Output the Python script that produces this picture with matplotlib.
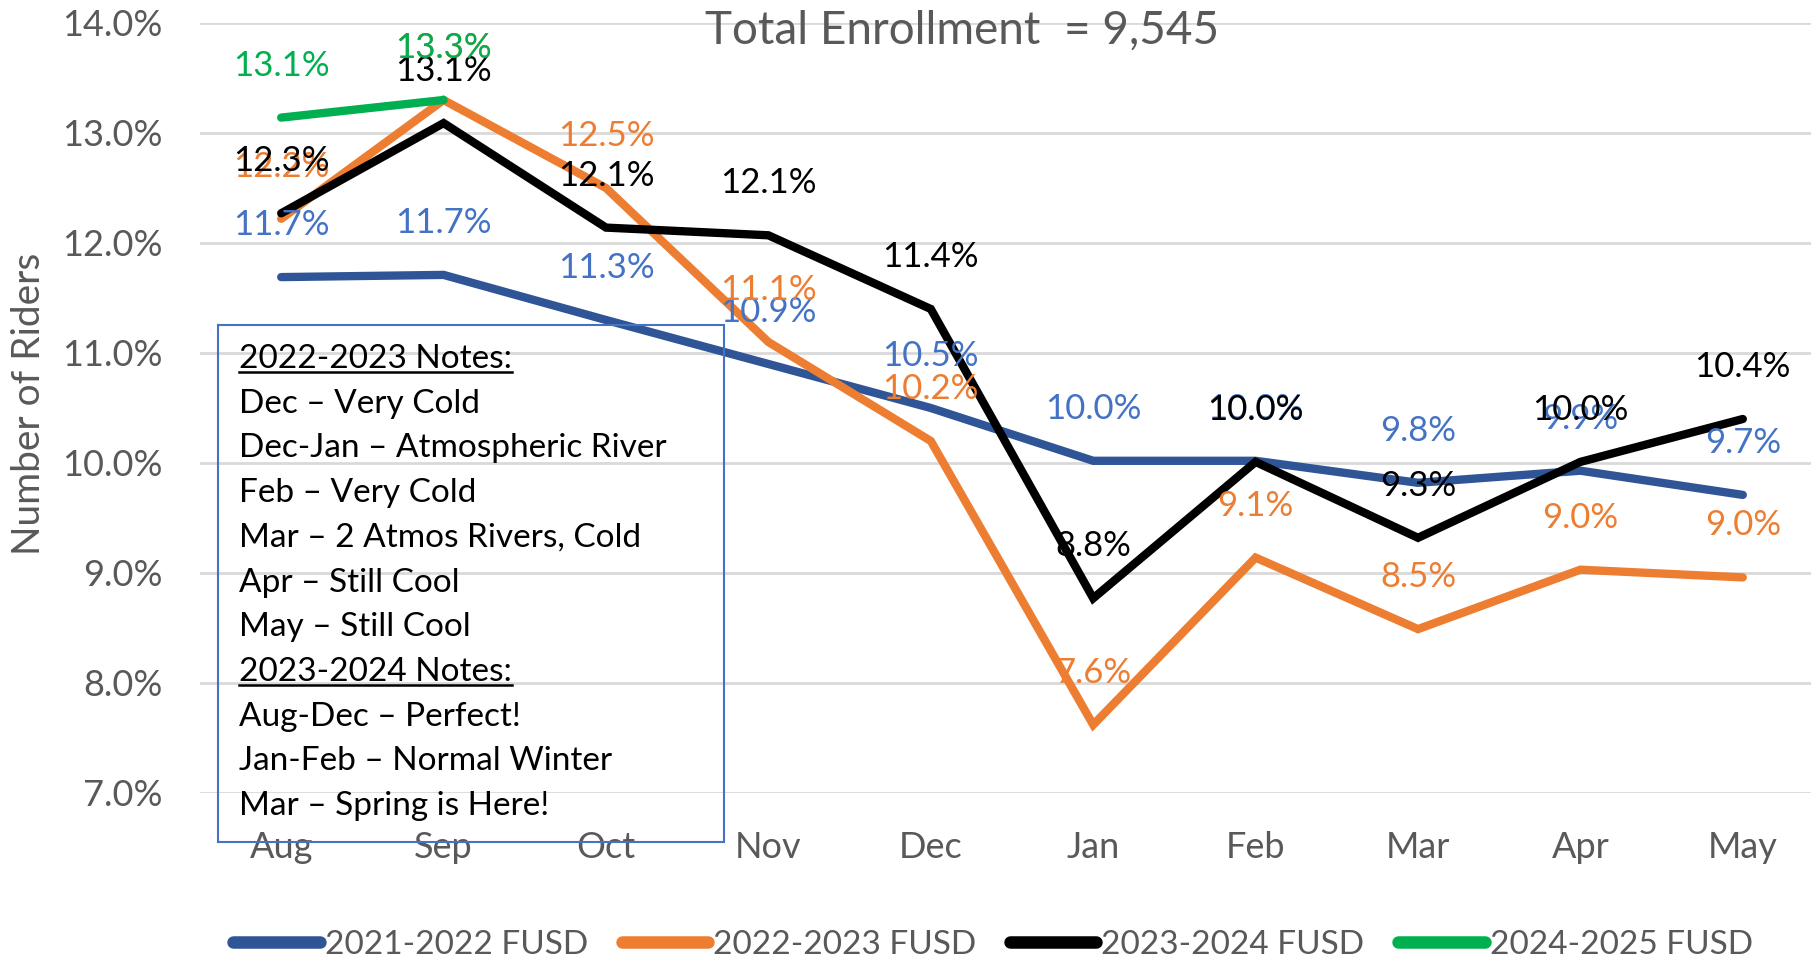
import matplotlib
matplotlib.use("Agg")
import matplotlib.pyplot as plt
from matplotlib import font_manager
from matplotlib.lines import Line2D
from matplotlib.patches import Rectangle

# data (percent of enrollment)
months = ["Aug", "Sep", "Oct", "Nov", "Dec", "Jan", "Feb", "Mar", "Apr", "May"]
fusd_2122 = [11.69, 11.71, 11.30, 10.90, 10.50, 10.02, 10.02, 9.82, 9.93, 9.71]
fusd_2223 = [12.22, 13.30, 12.50, 11.10, 10.20, 7.62, 9.14, 8.49, 9.03, 8.96]
fusd_2324 = [12.27, 13.09, 12.14, 12.07, 11.40, 8.77, 10.01, 9.32, 10.01, 10.40]
fusd_2425 = [13.14, 13.30]
series_labels = ["2021-2022 FUSD", "2022-2023 FUSD", "2023-2024 FUSD", "2024-2025 FUSD"]
yticks = [7, 8, 9, 10, 11, 12, 13, 14]
title = "Total Enrollment  = 9,545"
ylabel = "Number of Riders"
notes = ["2022-2023 Notes:", "Dec \u2013 Very Cold", "Dec-Jan \u2013 Atmospheric River",
         "Feb \u2013 Very Cold", "Mar \u2013 2 Atmos Rivers, Cold", "Apr \u2013 Still Cool",
         "May \u2013 Still Cool", "2023-2024 Notes:", "Aug-Dec \u2013 Perfect!",
         "Jan-Feb \u2013 Normal Winter", "Mar \u2013 Spring is Here!"]
underlined = {0, 7}

LINE_COLORS = ["#2F5597", "#ED7D31", "#000000", "#00B050"]
LABEL_COLORS = ["#4472C4", "#ED7D31", "#000000", "#00B050"]
GRAY = "#595959"
FONT = "Lato"


def has_font(name):
    try:
        font_manager.findfont(name, fallback_to_default=False)
        return True
    except Exception:
        return False


LEG_FONT = "Liberation Sans Narrow" if has_font("Liberation Sans Narrow") else FONT
plt.rcParams["font.family"] = [FONT, "DejaVu Sans"]

W, H = 1811, 964
fig = plt.figure(figsize=(W / 100, H / 100), dpi=100)
# x: Aug at px 281, step 162.4 ; y: 7% at px 793, 14% at px 23
ax = fig.add_axes([200 / W, 1 - 793 / H, (W - 200) / W, (793 - 23) / H])
ax.set_xlim(-0.5, -0.5 + (W - 200) / 162.4)
ax.set_ylim(7, 14)

for s in ax.spines.values():
    s.set_visible(False)
ax.set_yticks(yticks)
ax.set_yticklabels([f"{v:.1f}%" for v in yticks])
ax.set_xticks(range(len(months)))
ax.set_xticklabels(months)
ax.tick_params(length=0, labelsize=26, labelcolor=GRAY)
ax.tick_params(axis="y", pad=27)
ax.tick_params(axis="x", pad=27)
ax.grid(axis="y", color="#D9D9D9", linewidth=2)
ax.set_axisbelow(True)

all_series = [fusd_2122, fusd_2223, fusd_2324, fusd_2425]
for i, ys in enumerate(all_series):
    xs = list(range(len(ys)))
    ax.plot(xs, ys, color=LINE_COLORS[i], lw=6, solid_capstyle="round",
            solid_joinstyle="miter", label=series_labels[i], zorder=3 + i)
for i, ys in enumerate(all_series):
    for x, y in enumerate(ys):
        ax.annotate(f"{y:.1f}%", (x, y), xytext=(0, 52), textcoords="offset pixels",
                    ha="center", va="center", fontsize=25, color=LABEL_COLORS[i],
                    zorder=10 + i)

fig.text(962 / W, 1 - 31 / H, title, ha="center", va="center", fontsize=33, color=GRAY)
fig.text(29 / W, 1 - 404 / H, ylabel, ha="center", va="center", rotation=90,
         fontsize=28, color=GRAY)

# notes box (no fill)
fig.patches.append(Rectangle((218 / W, 1 - 842 / H), (724 - 218) / W, (842 - 325) / H,
                             transform=fig.transFigure, fill=False,
                             edgecolor="#4472C4", lw=1.5, zorder=20))
texts = []
for k, line in enumerate(notes):
    y = 359 + k * 44.7
    t = fig.text(239 / W, 1 - y / H, line, ha="left", va="center", fontsize=24,
                 color="black", zorder=21)
    texts.append(t)
fig.canvas.draw()
r = fig.canvas.get_renderer()
for k in underlined:
    bb = texts[k].get_window_extent(r)
    yline = bb.y0 + 2
    fig.add_artist(Line2D([bb.x0 / W, bb.x1 / W], [yline / H, yline / H],
                          transform=fig.transFigure, color="black", lw=1.8))

handles = [Line2D([], [], color=c, lw=9, solid_capstyle="round") for c in LINE_COLORS]
fig.legend(handles, series_labels, loc="center", bbox_to_anchor=(993 / W, 1 - 945 / H),
           ncol=4, frameon=False, handlelength=2.6, handletextpad=0.15,
           columnspacing=1.0, prop={"family": LEG_FONT, "size": 24},
           labelcolor=GRAY)

fig.savefig("out.png", dpi=100)
